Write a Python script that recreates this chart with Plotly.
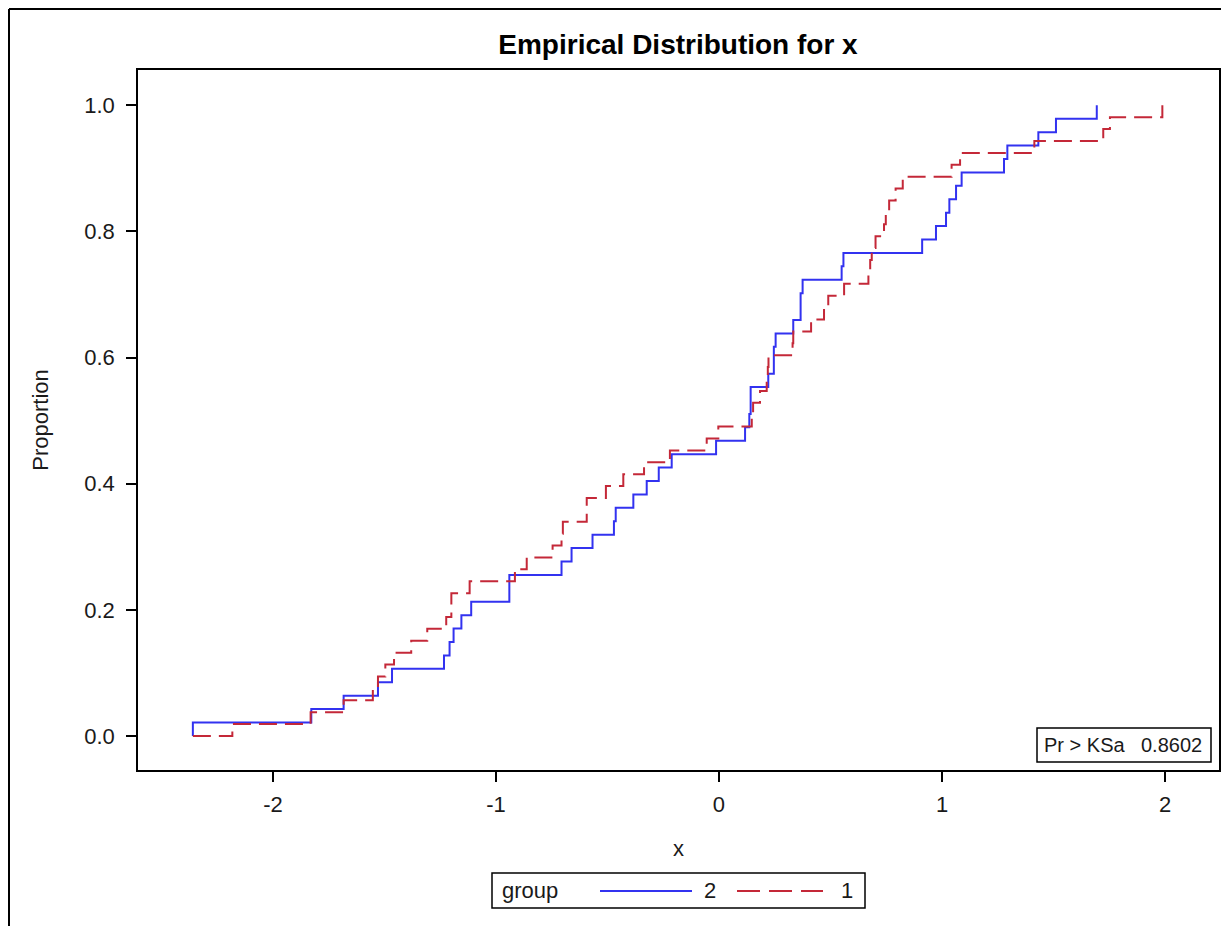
import plotly.graph_objects as go

# ---------------- data ----------------
# group 2 (blue, solid): n = 47 observations; jump locations and cumulative counts
g2_n = 47
g2_x = [-2.359, -1.828, -1.683, -1.529, -1.466, -1.233, -1.208, -1.190, -1.155, -1.111,
        -0.940, -0.706, -0.661, -0.567, -0.471, -0.463, -0.384, -0.324, -0.270, -0.212,
        -0.013, 0.117, 0.136, 0.142, 0.221, 0.246, 0.254, 0.333, 0.366, 0.375,
        0.550, 0.558, 0.911, 0.973, 1.018, 1.033, 1.063, 1.088, 1.278, 1.293,
        1.432, 1.511, 1.694]
g2_count = [1, 2, 3, 4, 5, 6, 7, 8, 9, 10,
            12, 13, 14, 15, 16, 17, 18, 19, 20, 21,
            22, 23, 24, 26, 27, 29, 30, 31, 33, 34,
            35, 36, 37, 38, 39, 40, 41, 42, 43, 44,
            45, 46, 47]

# group 1 (red, dashed): n = 53 observations
g1_n = 53
g1_x = [-2.182, -1.831, -1.683, -1.552, -1.529, -1.496, -1.457, -1.380, -1.308, -1.223,
        -1.200, -1.118, -0.915, -0.862, -0.746, -0.706, -0.700, -0.593, -0.507, -0.429,
        -0.336, -0.220, -0.055, -0.003, 0.147, 0.153, 0.184, 0.214, 0.219, 0.222,
        0.330, 0.333, 0.413, 0.471, 0.490, 0.561, 0.670, 0.678, 0.685, 0.702,
        0.740, 0.748, 0.763, 0.792, 0.824, 1.043, 1.081, 1.414, 1.723, 1.753,
        1.988]
g1_count = [1, 2, 3, 4, 5, 6, 7, 8, 9, 10,
            12, 13, 14, 15, 16, 17, 18, 20, 21, 22,
            23, 24, 25, 26, 27, 28, 29, 30, 31, 32,
            33, 34, 35, 36, 37, 38, 39, 40, 41, 42,
            43, 44, 45, 46, 47, 48, 49, 50, 51, 52,
            53]

x_ticks = [-2, -1, 0, 1, 2]
y_ticks = [0.0, 0.2, 0.4, 0.6, 0.8, 1.0]
title_text = "Empirical Distribution for x"
legend_title = "group"
ks_label = "Pr > KSa"
ks_value = "0.8602"

# ---------------- build the step curves ----------------
x_start = min(min(g1_x), min(g2_x))
g2_px = [x_start] + g2_x
g2_py = [0.0] + [c / g2_n for c in g2_count]
g1_px = [x_start] + g1_x
g1_py = [0.0] + [c / g1_n for c in g1_count]

BLUE = "#3232F0"
RED = "#C42838"
FONT = "Liberation Sans, Arial, sans-serif"
TXT = "#1a1a1a"

OFF = 8                      # page body margin offset
W, H = 1229 - OFF, 926 - OFF
# plot area in screen pixels of the reference
SL, SR, ST, SB = 138, 1219, 70, 770
L, R, T, B = SL - OFF, SR - OFF, ST - OFF, SB - OFF


def px(xs):
    """screen x pixel -> paper coordinate"""
    return (xs - SL) / (SR - SL)


def py(ys):
    """screen y pixel -> paper coordinate"""
    return (SB - ys) / (SB - ST)


fig = go.Figure()
fig.add_trace(go.Scatter(x=g2_px, y=g2_py, mode="lines", line_shape="hv",
                         line=dict(color=BLUE, width=2), name="2", showlegend=False))
fig.add_trace(go.Scatter(x=g1_px, y=g1_py, mode="lines", line_shape="hv",
                         line=dict(color=RED, width=2, dash="18px,8px"), name="1",
                         showlegend=False))

shapes = []
# outer frame (top and left edges visible)
shapes.append(dict(type="line", xref="paper", yref="paper", x0=px(9), x1=px(9),
                   y0=py(9), y1=py(960), line=dict(color="black", width=2)))
shapes.append(dict(type="line", xref="paper", yref="paper", x0=px(9), x1=px(1260),
                   y0=py(9), y1=py(9), line=dict(color="black", width=2)))
# KS inset box
shapes.append(dict(type="rect", xref="paper", yref="paper", x0=px(1037), x1=px(1211),
                   y0=py(762), y1=py(728), line=dict(color="black", width=1.5),
                   fillcolor="white"))
# legend box and samples
shapes.append(dict(type="rect", xref="paper", yref="paper", x0=px(492), x1=px(865),
                   y0=py(908), y1=py(873), line=dict(color="black", width=1.5)))
shapes.append(dict(type="line", xref="paper", yref="paper", x0=px(600), x1=px(692),
                   y0=py(891), y1=py(891), line=dict(color=BLUE, width=2)))
shapes.append(dict(type="line", xref="paper", yref="paper", x0=px(737), x1=px(823),
                   y0=py(891), y1=py(891), line=dict(color=RED, width=2, dash="23px,9px")))

annotations = [
    dict(text=ks_label, xref="paper", yref="paper", x=px(1042), y=py(745),
         xanchor="left", yanchor="middle", showarrow=False,
         font=dict(family=FONT, size=20, color=TXT)),
    dict(text=ks_value, xref="paper", yref="paper", x=px(1204), y=py(745),
         xanchor="right", yanchor="middle", showarrow=False,
         font=dict(family=FONT, size=20, color=TXT)),
    dict(text=legend_title, xref="paper", yref="paper", x=px(500), y=py(890),
         xanchor="left", yanchor="middle", showarrow=False,
         font=dict(family=FONT, size=22, color=TXT)),
    dict(text="2", xref="paper", yref="paper", x=px(710), y=py(890),
         xanchor="center", yanchor="middle", showarrow=False,
         font=dict(family=FONT, size=22, color=TXT)),
    dict(text="1", xref="paper", yref="paper", x=px(847), y=py(890),
         xanchor="center", yanchor="middle", showarrow=False,
         font=dict(family=FONT, size=22, color=TXT)),
]

axis_common = dict(showline=True, linecolor="black", linewidth=1.5, mirror=True,
                   ticks="outside", ticklen=10, tickwidth=1.5, tickcolor="black",
                   showgrid=False, zeroline=False,
                   tickfont=dict(family=FONT, size=22, color=TXT))

fig.update_layout(
    width=W, height=H,
    margin=dict(l=L, r=W - R, t=T, b=H - B, autoexpand=False),
    paper_bgcolor="white", plot_bgcolor="white",
    title=dict(text="<b>" + title_text + "</b>", xref="container", x=(678 - OFF) / W,
               xanchor="center", yref="container", y=1 - (44 - OFF) / H, yanchor="middle",
               font=dict(family=FONT, size=28, color="black")),
    xaxis=dict(range=[-2.605, 2.242], tickvals=x_ticks, ticktext=[str(v) for v in x_ticks],
               ticklabelstandoff=4,
               title=dict(text="x", standoff=24, font=dict(family=FONT, size=22, color=TXT)),
               **axis_common),
    yaxis=dict(range=[-0.054, 1.056], tickvals=y_ticks, tickformat=".1f",
               ticklabelstandoff=7,
               title=dict(text="Proportion", standoff=30,
                          font=dict(family=FONT, size=22, color=TXT)),
               **axis_common),
    shapes=shapes,
    annotations=annotations,
    showlegend=False,
)

fig.write_html("out.html")
